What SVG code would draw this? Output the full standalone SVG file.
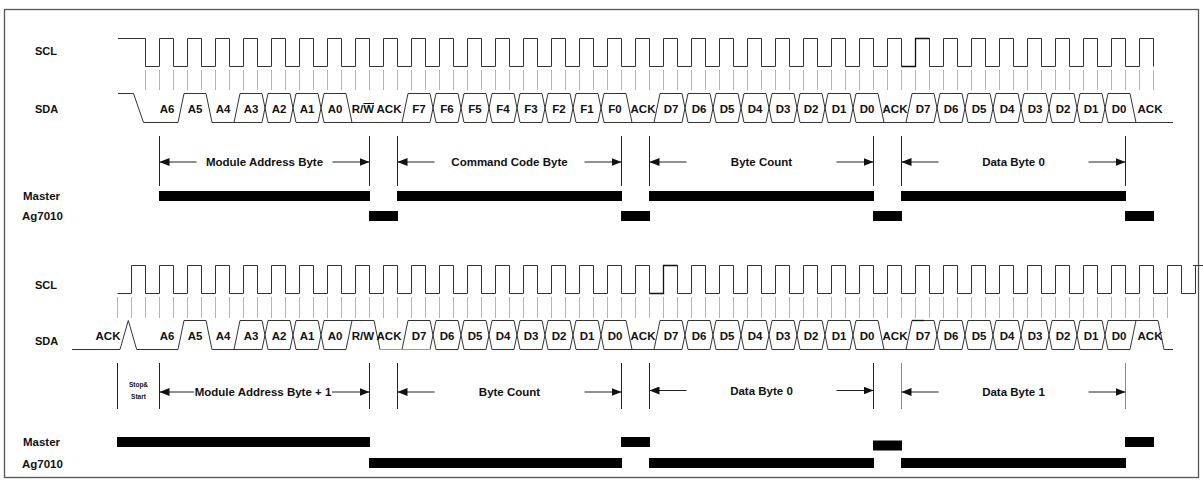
<svg xmlns="http://www.w3.org/2000/svg" width="1203" height="482" viewBox="0 0 1203 482">
<defs>
<style>
.w{fill:none;stroke:#333;stroke-width:1}
.dk{fill:none;stroke:#111;stroke-width:1.3}
.tk{fill:none;stroke:#b4b4b4;stroke-dasharray:1 13}
.t{font-family:"Liberation Sans",Arial,Helvetica,sans-serif;font-weight:bold;font-size:11.5px;fill:#111}
.s{font-size:11px}
.c{text-anchor:middle}
.v{stroke:#222;stroke-width:1}
.vg{stroke:#888;stroke-width:1}
.ar{stroke:#222;stroke-width:1;marker-end:url(#ah)}
.bar{fill:#000}
</style>
<marker id="ah" viewBox="0 0 10 8" refX="10" refY="4" markerWidth="10" markerHeight="8" markerUnits="userSpaceOnUse" orient="auto"><path d="M0,0L10,4L0,8z" fill="#111"/></marker>
</defs>
<rect x="0" y="0" width="1203" height="482" fill="#fff"/>
<rect x="4.5" y="9.5" width="1194" height="468" fill="none" stroke="#555" stroke-width="1.3"/>

<g id="top-diagram">
<g id="top-labels" class="t s">
<text x="35" y="55">SCL</text>
<text x="35" y="112.5">SDA</text>
</g>
<g id="top-scl">
<line class="tk" x1="145" y1="80" x2="1154" y2="80" stroke-width="20"/>
<path class="w" d="M118,38.5H145.5V66.5H159.5v-28h14v28h14v-28h14v28h14v-28h14v28h14v-28h14v28h14v-28h14v28h14v-28h14v28h14v-28h14v28h14v-28h14v28h14v-28h14v28h14v-28h14v28h14v-28h14v28h14v-28h14v28h14v-28h14v28h14v-28h14v28h14v-28h14v28h14v-28h14v28h14v-28h14v28h14v-28h14v28h14v-28h14v28h14v-28h14v28h14v-28h14v28h14v-28h14v28h14v-28h14v28h14v-28h14v28h14v-28h14v28h14v-28h14v28h14v-28h14v28h14v-28h14v28h14v-28h14v28h14v-28h14v28h14v-28h14v28h14v-28h14v28h14v-28h14v28h14v-28h14v28h14v-28h14v28h14v-28h14v28"/>
<path class="dk" d="M901.5,66.5H915.5V38.5H929.5"/>
</g>
<g id="top-sda">
<path class="w" d="M118,93.5H133.5L143.5,122.5H178L184,93.5H206L212,122.5H262L268,93.5H290L296,122.5H318L324,93.5H346L352,122.5H430L436,93.5H458L464,122.5H486L492,93.5H514L520,122.5H542L548,93.5H570L576,122.5H598L604,93.5H626L632,122.5H682L688,93.5H710L716,122.5H738L744,93.5H766L772,122.5H794L800,93.5H822L828,122.5H850L856,93.5H878L884,122.5H934L940,93.5H962L968,122.5H990L996,93.5H1018L1024,122.5H1046L1052,93.5H1074L1080,122.5H1102L1108,93.5H1130L1136,122.5H1173"/>
<path class="w" d="M234,122.5L240,93.5H262L268,122.5H290L296,93.5H318L324,122.5H352M402,122.5L408,93.5H430L436,122.5H458L464,93.5H486L492,122.5H514L520,93.5H542L548,122.5H570L576,93.5H598L604,122.5H632M654,122.5L660,93.5H682L688,122.5H710L716,93.5H738L744,122.5H766L772,93.5H794L800,122.5H822L828,93.5H850L856,122.5H884M906,122.5L912,93.5H934L940,122.5H962L968,93.5H990L996,122.5H1018L1024,93.5H1046L1052,122.5H1074L1080,93.5H1102L1108,122.5H1136"/>
<line x1="363.5" y1="103.5" x2="374" y2="103.5" stroke="#111" stroke-width="1"/>
<g class="t c">
<text x="167" y="113">A6</text><text x="195" y="113">A5</text><text x="223" y="113">A4</text><text x="251" y="113">A3</text><text x="279" y="113">A2</text><text x="307" y="113">A1</text><text x="335" y="113">A0</text><text x="363" y="113">R/W</text><text x="389" y="113">ACK</text>
<text x="419" y="113">F7</text><text x="447" y="113">F6</text><text x="475" y="113">F5</text><text x="503" y="113">F4</text><text x="531" y="113">F3</text><text x="559" y="113">F2</text><text x="587" y="113">F1</text><text x="615" y="113">F0</text><text x="643" y="113">ACK</text>
<text x="671" y="113">D7</text><text x="699" y="113">D6</text><text x="727" y="113">D5</text><text x="755" y="113">D4</text><text x="783" y="113">D3</text><text x="811" y="113">D2</text><text x="839" y="113">D1</text><text x="867" y="113">D0</text><text x="895" y="113">ACK</text>
<text x="923" y="113">D7</text><text x="951" y="113">D6</text><text x="979" y="113">D5</text><text x="1007" y="113">D4</text><text x="1035" y="113">D3</text><text x="1063" y="113">D2</text><text x="1091" y="113">D1</text><text x="1119" y="113">D0</text><text x="1150" y="113">ACK</text>
</g>
</g>
<g id="top-brackets">
<path class="v" d="M159.5,136V186M369.5,136V186M397.5,136V186M621.5,136V186M649.5,136V186M873.5,136V186M901.5,136V186M1125.5,136V186"/>
<line class="ar" x1="196.5" y1="162" x2="159.5" y2="162"/><line class="ar" x1="332.5" y1="162" x2="369.5" y2="162"/>
<line class="ar" x1="434.5" y1="162" x2="397.5" y2="162"/><line class="ar" x1="584.5" y1="162" x2="621.5" y2="162"/>
<line class="ar" x1="686.5" y1="162" x2="649.5" y2="162"/><line class="ar" x1="836.5" y1="162" x2="873.5" y2="162"/>
<line class="ar" x1="938.5" y1="162" x2="901.5" y2="162"/><line class="ar" x1="1088.5" y1="162" x2="1125.5" y2="162"/>
<g class="t c">
<text x="264.5" y="166">Module Address Byte</text>
<text x="509.5" y="166">Command Code Byte</text>
<text x="761.5" y="166">Byte Count</text>
<text x="1013.5" y="166">Data Byte 0</text>
</g>
</g>
<g id="top-bus">
<g class="t"><text x="23" y="200">Master</text><text x="22" y="220">Ag7010</text></g>
<rect class="bar" x="159" y="191" width="211" height="10"/>
<rect class="bar" x="397" y="191" width="225" height="10"/>
<rect class="bar" x="649" y="191" width="225" height="10"/>
<rect class="bar" x="901" y="191" width="225" height="10"/>
<rect class="bar" x="369" y="211" width="29" height="10"/>
<rect class="bar" x="621" y="211" width="29" height="10"/>
<rect class="bar" x="873" y="211" width="29" height="10"/>
<rect class="bar" x="1125" y="211" width="29" height="10"/>
</g>
</g>

<g id="bottom-diagram">
<g id="bottom-labels" class="t s">
<text x="35" y="289">SCL</text>
<text x="35" y="345">SDA</text>
</g>
<g id="bottom-scl">
<line class="tk" x1="117" y1="307.5" x2="1168" y2="307.5" stroke-width="21"/>
<path class="w" d="M117.5,293.5H131.5v-28h14v28h14v-28h14v28h14v-28h14v28h14v-28h14v28h14v-28h14v28h14v-28h14v28h14v-28h14v28h14v-28h14v28h14v-28h14v28h14v-28h14v28h14v-28h14v28h14v-28h14v28h14v-28h14v28h14v-28h14v28h14v-28h14v28h14v-28h14v28h14v-28h14v28h14v-28h14v28h14v-28h14v28h14v-28h14v28h14v-28h14v28h14v-28h14v28h14v-28h14v28h14v-28h14v28h14v-28h14v28h14v-28h14v28h14v-28h14v28h14v-28h14v28h14v-28h14v28h14v-28h14v28h14v-28h14v28h14v-28h14v28h14v-28h14v28h14v-28h14v28h14v-28h14v28h14v-28h14v28h14v-28h14v28h14v-28h14v28h14v-28h14v28h14v-28H1193"/>
<path class="dk" d="M649.5,293.5H663.5V265.5H677.5"/>
</g>
<g id="bottom-sda">
<path class="w" d="M72,349.5H120L128.3,320.5L136.7,349.5H178L184,320.5H206L212,349.5H262L268,320.5H290L296,349.5H318L324,320.5H374L380,349.5M430,349.5L436,320.5H458L464,349.5H486L492,320.5H514L520,349.5H542L548,320.5H570L576,349.5H598L604,320.5H626L632,349.5H682L688,320.5H710L716,349.5H738L744,320.5H766L772,349.5H794L800,320.5H822L828,349.5H850L856,320.5H878L884,349.5H934L940,320.5H962L968,349.5H990L996,320.5H1018L1024,349.5H1046L1052,320.5H1074L1080,349.5H1102L1108,320.5H1158L1164,349.5H1173"/>
<path class="w" d="M234,349.5L240,320.5H262L268,349.5H290L296,320.5H318L324,349.5H346L352,320.5M402,349.5L408,320.5H430L436,349.5H458L464,320.5H486L492,349.5H514L520,320.5H542L548,349.5H570L576,320.5H598L604,349.5H632M654,349.5L660,320.5H682L688,349.5H710L716,320.5H738L744,349.5H766L772,320.5H794L800,349.5H822L828,320.5H850L856,349.5H884M906,349.5L912,320.5H934L940,349.5H962L968,320.5H990L996,349.5H1018L1024,320.5H1046L1052,349.5H1074L1080,320.5H1102L1108,349.5H1130L1136,320.5"/>
<path d="M380,349.5H430" stroke="#999" stroke-width="1" fill="none"/>
<path class="dk" d="M912,320.5H924"/>
<g class="t c">
<text x="108" y="339.5">ACK</text>
<text x="167" y="339.5">A6</text><text x="195" y="339.5">A5</text><text x="223" y="339.5">A4</text><text x="251" y="339.5">A3</text><text x="279" y="339.5">A2</text><text x="307" y="339.5">A1</text><text x="335" y="339.5">A0</text><text x="363" y="339.5">R/W</text><text x="389" y="339.5">ACK</text>
<text x="419" y="339.5">D7</text><text x="447" y="339.5">D6</text><text x="475" y="339.5">D5</text><text x="503" y="339.5">D4</text><text x="531" y="339.5">D3</text><text x="559" y="339.5">D2</text><text x="587" y="339.5">D1</text><text x="615" y="339.5">D0</text><text x="643" y="339.5">ACK</text>
<text x="671" y="339.5">D7</text><text x="699" y="339.5">D6</text><text x="727" y="339.5">D5</text><text x="755" y="339.5">D4</text><text x="783" y="339.5">D3</text><text x="811" y="339.5">D2</text><text x="839" y="339.5">D1</text><text x="867" y="339.5">D0</text><text x="895" y="339.5">ACK</text>
<text x="923" y="339.5">D7</text><text x="951" y="339.5">D6</text><text x="979" y="339.5">D5</text><text x="1007" y="339.5">D4</text><text x="1035" y="339.5">D3</text><text x="1063" y="339.5">D2</text><text x="1091" y="339.5">D1</text><text x="1119" y="339.5">D0</text><text x="1150" y="339.5">ACK</text>
</g>
</g>
<g id="bottom-brackets">
<path class="v" d="M117.5,363V409M159.5,363V409M369.5,363V409M397.5,363V409M621.5,363V409M649.5,363V409M873.5,363V409"/>
<path class="vg" d="M901.5,363V409M1125.5,363V409"/>
<line class="ar" x1="194" y1="392" x2="159.5" y2="392"/><line class="ar" x1="332" y1="392" x2="369.5" y2="392"/>
<line class="ar" x1="434.5" y1="392" x2="397.5" y2="392"/><line class="ar" x1="584.5" y1="392" x2="621.5" y2="392"/>
<line class="ar" x1="686.5" y1="390.5" x2="649.5" y2="390.5"/><line class="ar" x1="836.5" y1="390.5" x2="873.5" y2="390.5"/>
<line class="ar" x1="938.5" y1="392" x2="901.5" y2="392"/><line class="ar" x1="1088.5" y1="392" x2="1125.5" y2="392"/>
<g class="t c">
<text x="138.5" y="387" font-size="6.5">Stop&amp;</text>
<text x="138.5" y="399" font-size="6.5">Start</text>
<text x="263" y="396">Module Address Byte + 1</text>
<text x="509.5" y="396">Byte Count</text>
<text x="761.5" y="394.5">Data Byte 0</text>
<text x="1013.5" y="396">Data Byte 1</text>
</g>
</g>
<g id="bottom-bus">
<g class="t"><text x="23" y="446">Master</text><text x="22" y="467.5">Ag7010</text></g>
<rect class="bar" x="117" y="437" width="253" height="10"/>
<rect class="bar" x="621" y="437" width="29" height="10"/>
<rect class="bar" x="873" y="440.5" width="29" height="10"/>
<rect class="bar" x="1125" y="437" width="29" height="10"/>
<rect class="bar" x="369" y="458" width="253" height="10"/>
<rect class="bar" x="649" y="458" width="225" height="10"/>
<rect class="bar" x="901" y="458" width="225" height="10"/>
</g>
</g>
</svg>
